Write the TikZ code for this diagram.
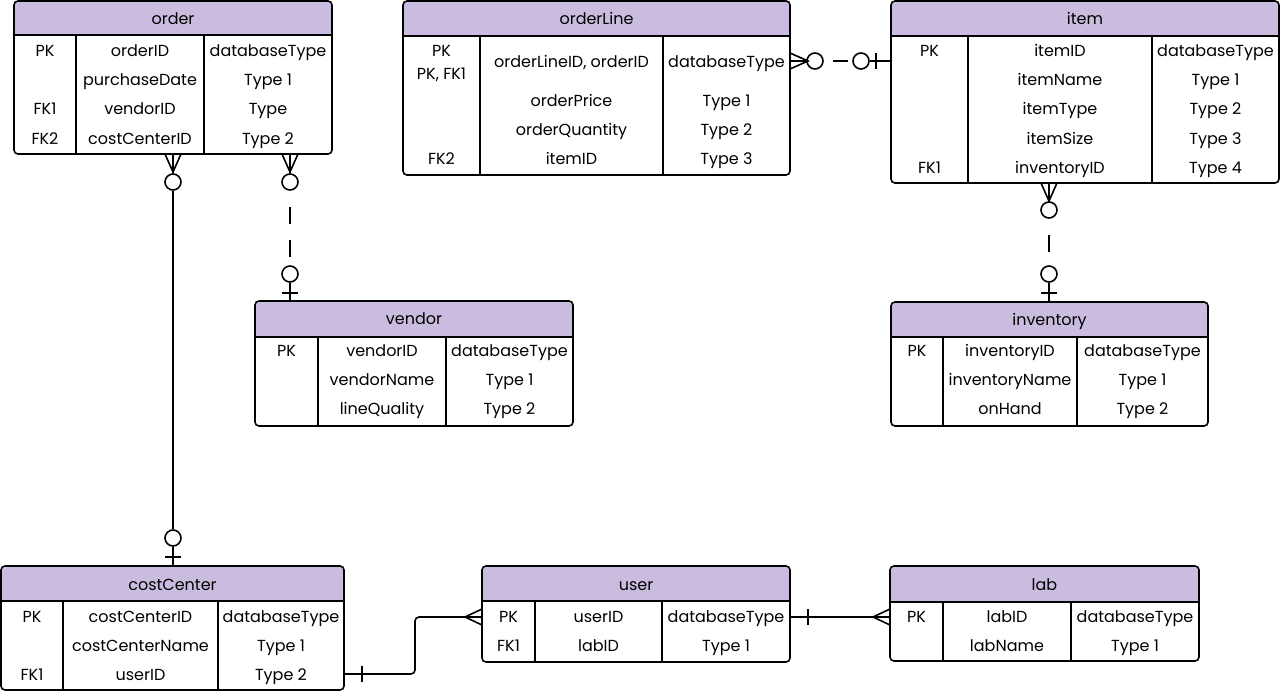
\documentclass[tikz,border=0pt]{standalone}
\usepackage{fontspec}
\setmainfont{Poppins}
\usetikzlibrary{fit}
\definecolor{hdr}{RGB}{202,188,222}
\tikzset{
  boxline/.style={line width=1.6pt, black},
  conn/.style={line width=1.6pt, black},
  dashconn/.style={conn, dash pattern=on 17pt off 16pt, dash phase=17pt},
  opt/.style={circle, draw, line width=1.6pt, fill=white, minimum size=16pt, inner sep=0pt},
  txt/.style={anchor=base, inner sep=0pt, font=\fontsize{16}{19}\selectfont},
}
\newcommand{\entity}[8]{%
  \node[fit={(#2,#3) (#4,#5)}, inner sep=0pt] (#1) {};
  \begin{scope}
    \clip[rounded corners=4pt] (#2,#3) rectangle (#4,#5);
    \fill[hdr] (#2,#3) rectangle (#4,#6);
  \end{scope}
  \draw[boxline] (#2,#6) -- (#4,#6) (#7,#6) -- (#7,#5) (#8,#6) -- (#8,#5);
  \draw[boxline, rounded corners=4pt] (#2,#3) rectangle (#4,#5);
}
% prefix, baseline, c1, c2, c3, key, field, type
\newcommand{\erow}[8]{%
  \node[txt] (#1k) at (#3,#2) {#6};
  \node[txt] (#1f) at (#4,#2) {#7};
  \node[txt] (#1t) at (#5,#2) {#8};
}
% prefix, baseline, c2, c3, field, type
\newcommand{\frow}[6]{%
  \node[txt] (#1f) at (#3,#2) {#5};
  \node[txt] (#1t) at (#4,#2) {#6};
}
\begin{document}
\begin{tikzpicture}[x=1pt, y=-1pt]
\useasboundingbox (0,0) rectangle (1280,692);

% ---------- order ----------
\entity{order}{14}{1}{332}{154}{35}{76}{204}
\node[txt] (order-title) at (173,25) {order};
\erow{o1}{57}{45}{140}{268}{PK}{orderID}{databaseType}
\frow{o2}{86}{140}{268}{purchaseDate}{Type 1}
\erow{o3}{115}{45}{140}{268}{FK1}{vendorID}{Type}
\erow{o4}{144.5}{45}{140}{268}{FK2}{costCenterID}{Type 2}

% ---------- orderLine ----------
\entity{orderLine}{403}{1}{790}{175}{36}{480}{663}
\node[txt] (ol-title) at (596.5,25) {orderLine};
\node[txt] (ol1k) at (441.5,57) {PK};
\node[txt] (ol1k2) at (441.5,80) {PK, FK1};
\frow{ol1}{68}{571.5}{726.5}{orderLineID, orderID}{databaseType}
\frow{ol2}{107}{571.5}{726.5}{orderPrice}{Type 1}
\frow{ol3}{136}{571.5}{726.5}{orderQuantity}{Type 2}
\erow{ol4}{165}{441.5}{571.5}{726.5}{FK2}{itemID}{Type 3}

% ---------- item ----------
\entity{item}{891}{1}{1279}{183}{36}{968}{1152}
\node[txt] (it-title) at (1085,25) {item};
\erow{it1}{57}{929.5}{1060}{1215.5}{PK}{itemID}{databaseType}
\frow{it2}{86}{1060}{1215.5}{itemName}{Type 1}
\frow{it3}{115}{1060}{1215.5}{itemType}{Type 2}
\frow{it4}{144.5}{1060}{1215.5}{itemSize}{Type 3}
\erow{it5}{174}{929.5}{1060}{1215.5}{FK1}{inventoryID}{Type 4}

% ---------- vendor ----------
\entity{vendor}{255}{301}{573}{426}{337}{318}{446}
\node[txt] (v-title) at (414,325) {vendor};
\erow{v1}{357}{286.5}{382}{509.5}{PK}{vendorID}{databaseType}
\frow{v2}{386}{382}{509.5}{vendorName}{Type 1}
\frow{v3}{415}{382}{509.5}{lineQuality}{Type 2}

% ---------- inventory ----------
\entity{inventory}{891}{302}{1208}{426}{337}{943}{1077}
\node[txt] (inv-title) at (1049.5,326) {inventory};
\erow{inv1}{357}{917}{1010}{1142.5}{PK}{inventoryID}{databaseType}
\frow{inv2}{386}{1010}{1142.5}{inventoryName}{Type 1}
\frow{inv3}{415}{1010}{1142.5}{onHand}{Type 2}

% ---------- costCenter ----------
\entity{costCenter}{1}{566}{344}{690}{601}{63}{218}
\node[txt] (cc-title) at (172.5,590) {costCenter};
\erow{cc1}{622}{32}{140.5}{281}{PK}{costCenterID}{databaseType}
\frow{cc2}{651}{140.5}{281}{costCenterName}{Type 1}
\erow{cc3}{680}{32}{140.5}{281}{FK1}{userID}{Type 2}

% ---------- user ----------
\entity{user}{482}{566}{790}{662}{601}{535}{662}
\node[txt] (u-title) at (636,590) {user};
\erow{u1}{622}{508.5}{598.5}{726}{PK}{userID}{databaseType}
\erow{u2}{651}{508.5}{598.5}{726}{FK1}{labID}{Type 1}

% ---------- lab ----------
\entity{lab}{890}{566}{1199}{661}{602}{943}{1071}
\node[txt] (l-title) at (1044.5,590) {lab};
\erow{l1}{622}{916.5}{1007}{1135}{PK}{labID}{databaseType}
\frow{l2}{651}{1007}{1135}{labName}{Type 1}

% ---------- order -- costCenter ----------
\coordinate (a0) at (173,154);
\coordinate (a1) at (173,566);
\node[opt] (aC1) at (173,182) {};
\node[opt] (aC2) at (173,538) {};
\draw[conn] (a0) -- (aC1);
\draw[conn, shift={(a0)}] (-8,0) -- (0,18) -- (8,0);
\draw[conn] (aC1) -- (aC2);
\draw[conn] (aC2) -- (a1);
\draw[conn, shift={(a1)}] (-8,-9) -- (8,-9);

% ---------- order -- vendor ----------
\coordinate (b0) at (290,154);
\coordinate (b1) at (290,301);
\node[opt] (bC1) at (290,182) {};
\node[opt] (bC2) at (290,274) {};
\draw[conn] (b0) -- (bC1);
\draw[conn, shift={(b0)}] (-8,0) -- (0,18) -- (8,0);
\draw[dashconn] (bC1) -- (bC2);
\draw[conn] (bC2) -- (b1);
\draw[conn, shift={(b1)}] (-8,-8) -- (8,-8);

% ---------- orderLine -- item ----------
\coordinate (c0) at (790,61);
\coordinate (c1) at (891,61);
\node[opt] (cC1) at (815,61) {};
\node[opt] (cC2) at (861,61) {};
\draw[conn] (c0) -- (cC1);
\draw[conn, shift={(c0)}] (0,-8) -- (18,0) -- (0,8);
\draw[conn, dash pattern=on 15pt off 9pt, dash phase=15pt] (cC1) -- (cC2);
\draw[conn] (cC2) -- (c1);
\draw[conn, shift={(c1)}] (-15,-8) -- (-15,8);

% ---------- item -- inventory ----------
\coordinate (d0) at (1049,183);
\coordinate (d1) at (1049,302);
\node[opt] (dC1) at (1049,210) {};
\node[opt] (dC2) at (1049,274) {};
\draw[conn] (d0) -- (dC1);
\draw[conn, shift={(d0)}] (-8,0) -- (0,18) -- (8,0);
\draw[dashconn] (dC1) -- (dC2);
\draw[conn] (dC2) -- (d1);
\draw[conn, shift={(d1)}] (-8,-9) -- (8,-9);

% ---------- costCenter -- user ----------
\coordinate (e0) at (344,674);
\coordinate (e1) at (482,617);
\draw[conn, rounded corners=4pt] (e0) -- (415,674) -- (415,617) -- (e1);
\draw[conn, shift={(e0)}] (18,-8) -- (18,8);
\draw[conn, shift={(e1)}] (0,-8) -- (-17,0) -- (0,8);

% ---------- user -- lab ----------
\coordinate (f0) at (790,617);
\coordinate (f1) at (890,617);
\draw[conn] (f0) -- (f1);
\draw[conn, shift={(f0)}] (18,-8) -- (18,8);
\draw[conn, shift={(f1)}] (0,-8) -- (-17,0) -- (0,8);
\end{tikzpicture}
\end{document}
